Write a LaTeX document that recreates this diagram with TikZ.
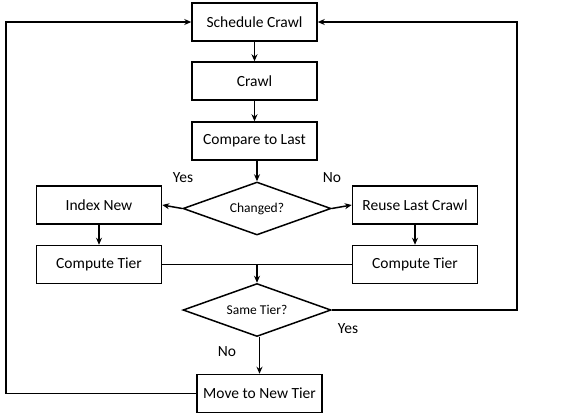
\documentclass[tikz,border=0pt]{standalone}
\usepackage{fontspec}
\setmainfont{Carlito}
\usetikzlibrary{shapes.geometric,arrows.meta,calc}
\begin{document}
\begin{tikzpicture}[x=1pt,y=-1pt,
  line width=1.5pt,
  stepbox/.style={draw, minimum width=125pt, minimum height=38pt, inner sep=2pt, font=\fontsize{15.5}{17}\selectfont},
  decision/.style={draw, diamond, aspect=2.8, inner sep=0pt, minimum width=148pt, minimum height=53pt, font=\fontsize{13.5}{15}\selectfont},
  lab/.style={font=\fontsize{15.5}{17}\selectfont, inner sep=0pt},
  arr/.style={-{Stealth[length=7pt,width=6pt]}}]
\useasboundingbox (0,0) rectangle (561,416);
\node[stepbox] (sched) at (254.5,22) {Schedule Crawl};
\node[stepbox] (crawl) at (254.5,81) {Crawl};
\node[stepbox] (cmp) at (254.5,141) {Compare to Last};
\node[decision] (chg) at (257,208.5) {Changed?};
\node[stepbox] (idx) at (99,205) {Index New};
\node[stepbox] (reuse) at (415,205) {Reuse Last Crawl};
\node[stepbox] (ctl) at (99,264.5) {Compute Tier};
\node[stepbox] (ctr) at (415,264.5) {Compute Tier};
\node[decision] (same) at (257,310) {Same Tier?};
\node[stepbox] (move) at (259.5,393.5) {Move to New Tier};
\coordinate (lc) at (6,22);
\coordinate (rc) at (517,22);
\draw[arr] (sched) -- (crawl);
\draw[arr] (crawl) -- (cmp);
\draw[arr] (cmp.south -| chg.north) -- (chg.north);
\draw[arr] (chg.west) -- (idx.east);
\draw[arr] (chg.east) -- (reuse.west);
\draw[arr] (idx) -- (ctl);
\draw[arr] (reuse) -- (ctr);
\draw (ctl.east) -- (ctr.west);
\draw[arr] (ctl.east -| same.north) -- (same.north);
\draw[arr] (same.south -| move.north) -- (move.north);
\draw[arr] (move.west) -| (lc) -- (sched.west);
\draw[arr] (same.east) -| (rc) -- (sched.east);
\node[lab] (yes1) at (183,178) {Yes};
\node[lab] (no1) at (332,178) {No};
\node[lab] (yes2) at (348,329) {Yes};
\node[lab] (no2) at (227,352) {No};
\end{tikzpicture}
\end{document}
